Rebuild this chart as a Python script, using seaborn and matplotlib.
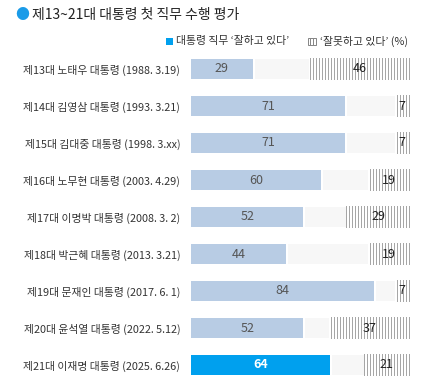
import numpy as np
import pandas as pd
import matplotlib
matplotlib.use('Agg')
import matplotlib.pyplot as plt
import seaborn as sns

labels = ['제13대 노태우 대통령 (1988. 3.19)', '제14대 김영삼 대통령 (1993. 3.21)',
          '제15대 김대중 대통령 (1998. 3.xx)', '제16대 노무현 대통령 (2003. 4.29)',
          '제17대 이명박 대통령 (2008. 3. 2)', '제18대 박근혜 대통령 (2013. 3.21)',
          '제19대 문재인 대통령 (2017. 6. 1)', '제20대 윤석열 대통령 (2022. 5.12)',
          '제21대 이재명 대통령 (2025. 6.26)']
approve = [29, 71, 71, 60, 52, 44, 84, 52, 64]
disapprove = [46, 7, 7, 19, 29, 19, 7, 37, 21]

DPI = 144  # hatch tile = 144px -> 48 lines give crisp 1px stripes
f = 100 / DPI  # keep font sizes as if drawn at 100 dpi

sns.set_style('white')
plt.rcParams['font.family'] = ['Noto Sans CJK KR', 'DejaVu Sans']
plt.rcParams['hatch.linewidth'] = 0.5

df = pd.DataFrame({'label': labels, 'approve': approve, 'disapprove': disapprove})
df['full'] = 100

fig = plt.figure(figsize=(422 / DPI, 389 / DPI), dpi=DPI)
ax = fig.add_axes([190/422, 5.5/389, 220/422, 333/389])

# background track
sns.barplot(data=df, y='label', x='full', color='#f7f7f7', width=0.57, ax=ax,
            saturation=1, orient='h')
# approve bars
cols = ['#b8cce4'] * (len(df) - 1) + ['#00a0ee']
sns.barplot(data=df, y='label', x='approve', hue='label', palette=cols, legend=False,
            width=0.57, ax=ax, saturation=1, orient='h')
# disapprove bars (right aligned, hatched)
ypos = np.arange(len(df))
ax.barh(ypos, df['disapprove'], left=100 - df['disapprove'], height=0.57,
        color='white', edgecolor='#a6a6a6', hatch='|' * 8, linewidth=0)

for i, (a, d) in enumerate(zip(approve, disapprove)):
    last = i == len(df) - 1
    ax.text(a / 2, i, str(a), ha='center', va='center', fontsize=9 * f,
            color='white' if last else '#555555', fontweight='bold' if last else 'normal')
    ax.text(100 - d / 2, i, str(d), ha='center', va='center', fontsize=9 * f, color='#222222')

ax.set_xlim(0, 100)
ax.set_ylim(len(df) - 0.5, -0.5)
ax.set_xlabel('')
ax.set_ylabel('')
ax.set_xticks([])
ax.tick_params(axis='y', length=0, pad=7 * f, labelsize=7.8 * f, labelcolor='#333333')
sns.despine(ax=ax, left=True, bottom=True)

# title
fig.text(22/422, 1 - 15/389, '●', color='#1a9be8', fontsize=10 * f, va='center', ha='center')
fig.text(32/422, 1 - 15/389, '제13~21대 대통령 첫 직무 수행 평가', fontsize=10 * f,
         va='center', ha='left', color='#222222', fontweight='medium')

# legend
lx = 166 / 422
ly = 1 - 41 / 389
fig.patches.append(plt.Rectangle((lx, ly - 3.5/389), 7/422, 7/389, transform=fig.transFigure,
                                 facecolor='#00a0ee', edgecolor='none'))
fig.text(lx + 10/422, ly, '대통령 직무 ‘잘하고 있다’', fontsize=7.8 * f, va='center', color='#333333')
lx2 = 308 / 422
fig.patches.append(plt.Rectangle((lx2, ly - 3.5/389), 8/422, 7/389, transform=fig.transFigure,
                                 facecolor='white', edgecolor='#888888', hatch='|' * 8,
                                 linewidth=0.5))
fig.text(lx2 + 12/422, ly, '‘잘못하고 있다’ (%)', fontsize=7.8 * f, va='center', color='#333333')

fig.savefig('out.png', dpi=DPI)
